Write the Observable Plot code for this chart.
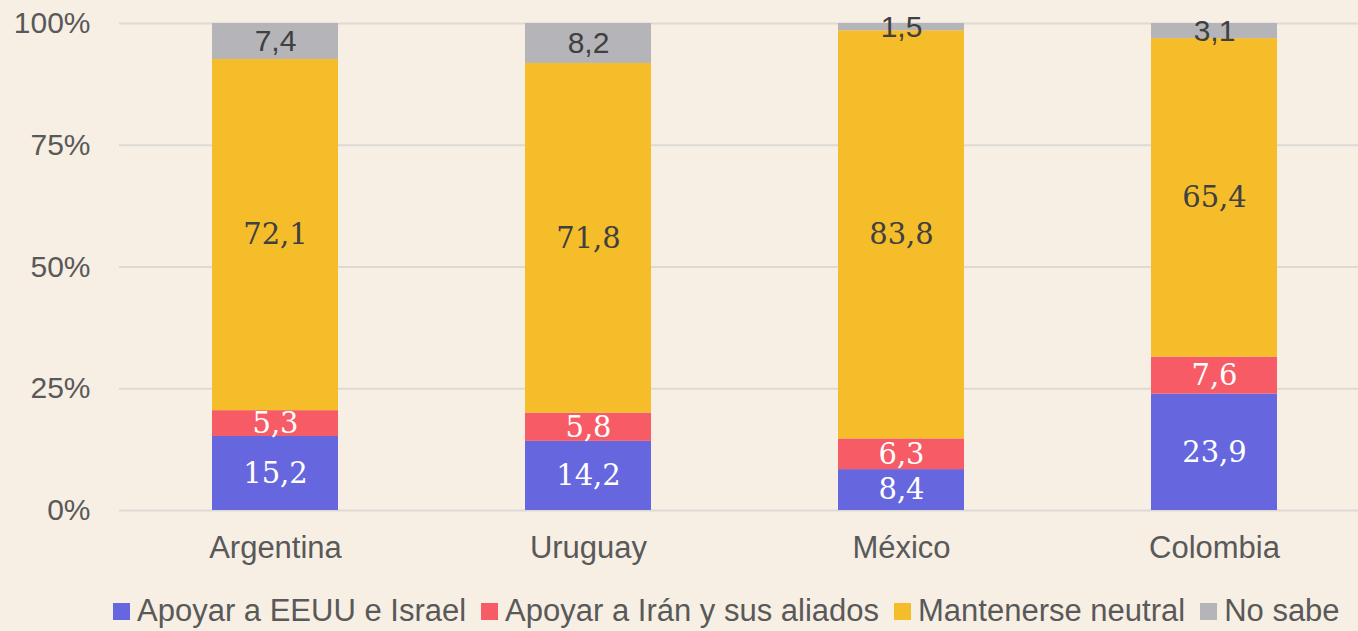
<!DOCTYPE html>
<html>
<head>
<meta charset="utf-8">
<script src="https://cdn.jsdelivr.net/npm/d3@7"></script>
<script src="https://cdn.jsdelivr.net/npm/@observablehq/plot@0.6"></script>
<style>
  html, body { margin: 0; padding: 0; background: #f7efe3; }
  #wrap { position: relative; width: 1358px; height: 631px; overflow: hidden; background: #f7efe3; }
  #legend { position: absolute; left: 113px; top: 595px; height: 32px; display: flex; align-items: center; white-space: nowrap;
            font-family: "Liberation Sans", Arial, sans-serif; font-size: 31px; line-height: 32px; color: #595959; }
  .item { display: flex; align-items: center; margin-right: 15px; }
  .sw { width: 17px; height: 17px; margin-right: 7px; flex: none; }
</style>
</head>
<body>
<div id="wrap">
  <div id="chart"></div>
  <div id="legend"></div>
</div>
<script>
const countries = ["Argentina", "Uruguay", "México", "Colombia"];
const series = ["Apoyar a EEUU e Israel", "Apoyar a Irán y sus aliados", "Mantenerse neutral", "No sabe"];
const apoyoEEUU = [15.2, 14.2, 8.4, 23.9];
const apoyoIran = [5.3, 5.8, 6.3, 7.6];
const neutral = [72.1, 71.8, 83.8, 65.4];
const noSabe = [7.4, 8.2, 1.5, 3.1];
const yTicks = [0, 25, 50, 75, 100];
const colors = ["#6667de", "#f65b66", "#f6bd2b", "#b5b4b8"];

const seriesValues = [apoyoEEUU, apoyoIran, neutral, noSabe];
const data = countries.flatMap((c, i) => seriesValues.map((arr, j) => ({country: c, series: series[j], value: arr[i]})));

const fmt = v => v.toFixed(1).replace(".", ",");
const labelFor = set => d => set.includes(d.series) ? fmt(d.value) : null;

const chart = Plot.plot({
  width: 1358,
  height: 580,
  marginTop: 23,
  marginBottom: 70,
  marginLeft: 119,
  marginRight: 0,
  style: {background: "transparent", fontFamily: "'Liberation Sans', Arial, sans-serif", fontSize: "31px", color: "#595959"},
  x: {domain: countries, range: [119, 1371], paddingInner: 0.597, paddingOuter: 0.2985, align: 0.5, label: null},
  y: {domain: [0, 100], label: null},
  color: {domain: series, range: colors},
  marks: [
    Plot.ruleY(yTicks, {stroke: "#dddad6", strokeWidth: 2}),
    Plot.barY(data, {x: "country", y: "value", fill: "series", z: "series"}),
    Plot.text(data, Plot.stackY({x: "country", y: "value", z: "series",
      text: labelFor([series[0], series[1]]), fill: "white", fontFamily: "'DejaVu Serif', serif", fontSize: 29})),
    Plot.text(data, Plot.stackY({x: "country", y: "value", z: "series",
      text: labelFor([series[2]]), fill: "#404040", fontFamily: "'DejaVu Serif', serif", fontSize: 29})),
    Plot.text(data, Plot.stackY({x: "country", y: "value", z: "series",
      text: labelFor([series[3]]), fill: "#404040", fontFamily: "'Liberation Sans', Arial, sans-serif", fontSize: 30})),
    Plot.axisY({ticks: yTicks, tickFormat: d => d + "%", tickSize: 0, tickPadding: 29, fontSize: 30, label: null}),
    Plot.axisX({tickSize: 0, tickPadding: 25, fontSize: 31, label: null})
  ]
});
document.getElementById("chart").appendChild(chart);

const legend = document.getElementById("legend");
series.forEach((s, i) => {
  const item = document.createElement("div");
  item.className = "item";
  const sw = document.createElement("span");
  sw.className = "sw";
  sw.style.background = colors[i];
  const t = document.createElement("span");
  t.textContent = s;
  item.appendChild(sw);
  item.appendChild(t);
  legend.appendChild(item);
});
</script>
</body>
</html>
